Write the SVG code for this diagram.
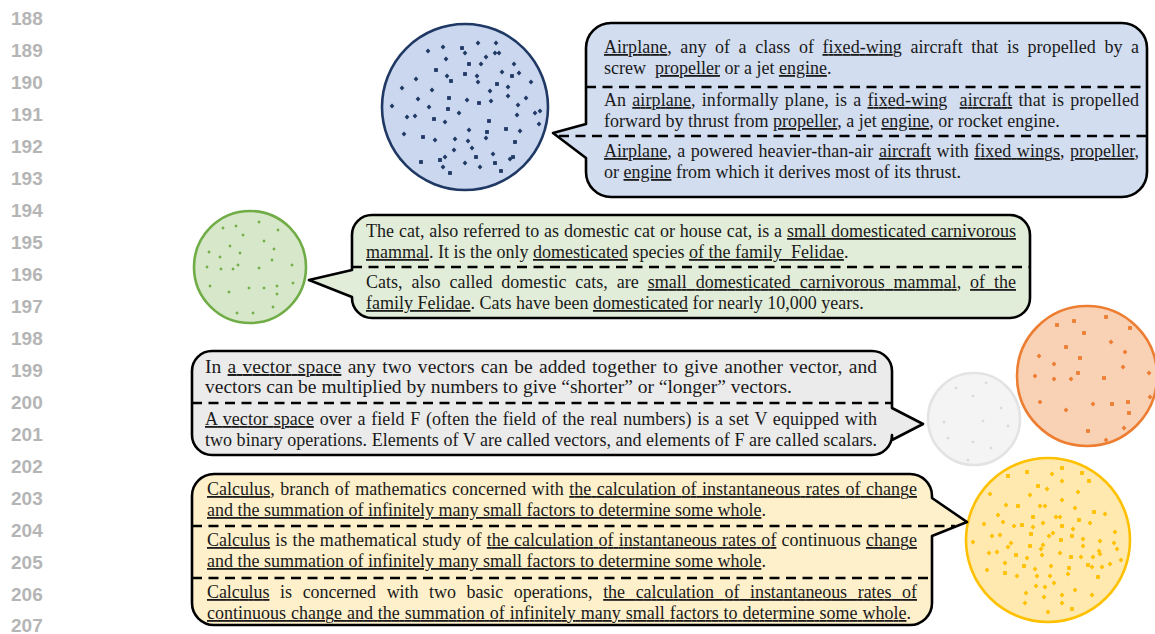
<svg xmlns="http://www.w3.org/2000/svg" xmlns:xlink="http://www.w3.org/1999/xlink" width="1155" height="634" viewBox="0 0 1155 634">
<style>
.ln{font-family:"Liberation Sans",Arial,sans-serif;font-weight:bold;font-size:19px;fill:#b5b5b5}
.t{font-family:"Liberation Serif","Times New Roman",serif;font-size:18px;fill:#1a1a1a}
.tb{font-size:19.5px}
.u{text-decoration:underline}
.bub{stroke:#000;stroke-width:2.6;stroke-linejoin:round}
.dash{stroke:#000;stroke-width:2.6;stroke-dasharray:10 6.5;fill:none}
.circ{stroke-width:2.6}
</style>
<defs>
<path id="dm" d="M0-2.4L2.4 0 0 2.4-2.4 0Z"/>
<rect id="sq" x="-1.9" y="-1.9" width="3.8" height="3.8"/>
<path id="ds" d="M0-1.7L1.7 0 0 1.7-1.7 0Z"/>
</defs>
<rect width="1155" height="634" fill="#fff"/>
<g id="line-numbers" class="ln">
<text x="11" y="25">188</text><text x="11" y="57">189</text><text x="11" y="89">190</text><text x="11" y="121">191</text><text x="11" y="153">192</text><text x="11" y="185">193</text><text x="11" y="217">194</text><text x="11" y="249">195</text><text x="11" y="281">196</text><text x="11" y="313">197</text><text x="11" y="345">198</text><text x="11" y="377">199</text><text x="11" y="409">200</text><text x="11" y="441">201</text><text x="11" y="473">202</text><text x="11" y="505">203</text><text x="11" y="537">204</text><text x="11" y="569">205</text><text x="11" y="601">206</text><text x="11" y="632">207</text>
</g>
<g id="connectors"></g>
<g id="airplane-circle">
<circle cx="465" cy="107" r="83" fill="#cbd7ee" stroke="#1f3864" class="circ"/>
<g fill="#1f3864">
<use href="#dm" x="428" y="51"/><use href="#dm" x="443" y="47"/><use href="#sq" x="462" y="48"/><use href="#dm" x="465" y="53"/><use href="#dm" x="478" y="43"/><use href="#dm" x="496" y="43"/><use href="#dm" x="446" y="59"/><use href="#dm" x="486" y="57"/><use href="#dm" x="495" y="53"/><use href="#dm" x="499" y="53"/><use href="#sq" x="469" y="64"/><use href="#dm" x="481" y="64"/><use href="#dm" x="514" y="64"/><use href="#sq" x="436" y="70"/><use href="#dm" x="416" y="79"/><use href="#dm" x="447" y="76"/><use href="#sq" x="451" y="81"/><use href="#sq" x="465" y="74"/><use href="#dm" x="477" y="76"/><use href="#dm" x="478" y="82"/><use href="#dm" x="502" y="72"/><use href="#sq" x="512" y="76"/><use href="#dm" x="519" y="73"/><use href="#dm" x="531" y="82"/><use href="#sq" x="497" y="84"/><use href="#dm" x="508" y="87"/><use href="#dm" x="402" y="88"/><use href="#dm" x="432" y="90"/><use href="#dm" x="490" y="91"/><use href="#dm" x="508" y="96"/><use href="#dm" x="526" y="98"/><use href="#dm" x="418" y="99"/><use href="#sq" x="449" y="98"/><use href="#dm" x="467" y="100"/><use href="#sq" x="479" y="103"/><use href="#dm" x="491" y="101"/><use href="#dm" x="392" y="106"/><use href="#dm" x="429" y="107"/><use href="#sq" x="448" y="109"/><use href="#dm" x="459" y="113"/><use href="#dm" x="518" y="105"/><use href="#dm" x="535" y="113"/><use href="#dm" x="540" y="111"/><use href="#dm" x="407" y="117"/><use href="#dm" x="415" y="116"/><use href="#sq" x="434" y="119"/><use href="#dm" x="445" y="122"/><use href="#sq" x="489" y="121"/><use href="#dm" x="517" y="115"/><use href="#dm" x="404" y="134"/><use href="#sq" x="423" y="137"/><use href="#dm" x="435" y="140"/><use href="#dm" x="455" y="139"/><use href="#dm" x="469" y="130"/><use href="#sq" x="487" y="132"/><use href="#dm" x="486" y="138"/><use href="#sq" x="506" y="129"/><use href="#dm" x="520" y="131"/><use href="#dm" x="539" y="124"/><use href="#dm" x="468" y="141"/><use href="#dm" x="472" y="148"/><use href="#sq" x="515" y="142"/><use href="#dm" x="454" y="150"/><use href="#dm" x="445" y="157"/><use href="#sq" x="440" y="160"/><use href="#sq" x="476" y="157"/><use href="#dm" x="493" y="154"/><use href="#sq" x="421" y="162"/><use href="#dm" x="465" y="163"/><use href="#dm" x="480" y="167"/><use href="#sq" x="495" y="163"/><use href="#dm" x="510" y="159"/><use href="#sq" x="513" y="157"/><use href="#dm" x="443" y="167"/><use href="#sq" x="450" y="173"/><use href="#sq" x="501" y="171"/>
</g>
</g>
<g id="airplane-bubble">
<path class="bub" fill="#d2ddf0" d="M611 23H1122A25 25 0 0 1 1147 48V172A25 25 0 0 1 1122 197H611A25 25 0 0 1 586 172V158L553 133L586 124V48A25 25 0 0 1 611 23Z"/>
<path class="dash" d="M586 87H1147M559 136H1147"/>
<text class="t" x="604" y="53" word-spacing="4" textLength="535" lengthAdjust="spacing"><tspan class="u">Airplane</tspan>, any of a class of <tspan class="u">fixed-wing</tspan> aircraft that is propelled by a</text>
<text class="t" x="604" y="74">screw&#160; <tspan class="u">propeller</tspan> or a jet <tspan class="u">engine</tspan>.</text>
<text class="t" x="604" y="106" word-spacing="1.5" textLength="535" lengthAdjust="spacing">An <tspan class="u">airplane</tspan>, informally plane, is a <tspan class="u">fixed-wing</tspan>&#160; <tspan class="u">aircraft</tspan> that is propelled</text>
<text class="t" x="604" y="127">forward by thrust from <tspan class="u">propeller</tspan>, a jet <tspan class="u">engine</tspan>, or rocket engine.</text>
<text class="t" x="604" y="157" word-spacing="1" textLength="535" lengthAdjust="spacing"><tspan class="u">Airplane</tspan>, a powered heavier-than-air <tspan class="u">aircraft</tspan> with <tspan class="u">fixed wings</tspan>, <tspan class="u">propeller</tspan>,</text>
<text class="t" x="604" y="178">or <tspan class="u">engine</tspan> from which it derives most of its thrust.</text>
</g>
<g id="cat-circle">
<circle cx="250" cy="267" r="56" fill="#d6e7ca" stroke="#70ad47" class="circ"/>
<g fill="#70ad47">
<use href="#ds" x="223" y="228"/><use href="#ds" x="236" y="226"/><use href="#ds" x="259" y="222"/><use href="#ds" x="278" y="230"/><use href="#ds" x="243" y="235"/><use href="#ds" x="264" y="241"/><use href="#ds" x="230" y="246"/><use href="#ds" x="274" y="249"/><use href="#ds" x="209" y="252"/><use href="#ds" x="240" y="253"/><use href="#ds" x="220" y="257"/><use href="#ds" x="272" y="260"/><use href="#ds" x="238" y="265"/><use href="#ds" x="207" y="267"/><use href="#ds" x="221" y="269"/><use href="#ds" x="233" y="269"/><use href="#ds" x="259" y="268"/><use href="#ds" x="292" y="265"/><use href="#ds" x="210" y="286"/><use href="#ds" x="249" y="288"/><use href="#ds" x="264" y="288"/><use href="#ds" x="277" y="286"/><use href="#ds" x="293" y="283"/><use href="#ds" x="229" y="292"/><use href="#ds" x="277" y="294"/><use href="#ds" x="273" y="307"/><use href="#ds" x="237" y="313"/><use href="#ds" x="253" y="313"/>
</g>
</g>
<g id="cat-bubble">
<path class="bub" fill="#e2edd9" d="M372 215H1010A20 20 0 0 1 1030 235V298A20 20 0 0 1 1010 318H372A20 20 0 0 1 352 298V297L309 280L352 270V235A20 20 0 0 1 372 215Z"/>
<path class="dash" d="M352 267H1030"/>
<text class="t" x="366" y="237" word-spacing="0.4" textLength="650" lengthAdjust="spacing">The cat, also referred to as domestic cat or house cat, is a <tspan class="u">small domesticated carnivorous</tspan></text>
<text class="t" x="366" y="258"><tspan class="u">mammal</tspan>. It is the only <tspan class="u">domesticated</tspan> species <tspan class="u">of the family&#160; Felidae</tspan>.</text>
<text class="t" x="366" y="288" word-spacing="4.4" textLength="650" lengthAdjust="spacing">Cats, also called domestic cats, are <tspan class="u">small domesticated carnivorous mammal</tspan>, <tspan class="u">of the</tspan></text>
<text class="t" x="366" y="309"><tspan class="u">family Felidae</tspan>. Cats have been <tspan class="u">domesticated</tspan> for nearly 10,000 years.</text>
</g>
<g id="orange-circle">
<circle cx="1087" cy="376" r="70" fill="#f9d2b5" stroke="#ed7d31" class="circ"/>
<g fill="#ed7d31">
<use href="#sq" x="1057" y="325"/><use href="#sq" x="1074" y="321"/><use href="#sq" x="1106" y="317"/><use href="#sq" x="1130" y="328"/><use href="#sq" x="1084" y="333"/><use href="#dm" x="1111" y="342"/><use href="#sq" x="1066" y="347"/><use href="#dm" x="1125" y="352"/><use href="#dm" x="1039" y="356"/><use href="#sq" x="1080" y="358"/><use href="#dm" x="1054" y="364"/><use href="#dm" x="1123" y="367"/><use href="#sq" x="1078" y="373"/><use href="#dm" x="1149" y="373"/><use href="#dm" x="1035" y="376"/><use href="#dm" x="1054" y="379"/><use href="#dm" x="1071" y="379"/><use href="#sq" x="1104" y="378"/><use href="#dm" x="1150" y="397"/><use href="#dm" x="1040" y="402"/><use href="#dm" x="1093" y="404"/><use href="#sq" x="1112" y="404"/><use href="#sq" x="1128" y="402"/><use href="#sq" x="1129" y="413"/><use href="#dm" x="1066" y="410"/><use href="#dm" x="1124" y="428"/><use href="#sq" x="1088" y="431"/><use href="#dm" x="1106" y="440"/>
</g>
</g>
<g id="vector-circle">
<circle cx="974" cy="419" r="46" fill="#f4f4f4" stroke="#e3e3e3" class="circ"/>
<g fill="#dadada">
<use href="#ds" x="956" y="388"/><use href="#ds" x="986" y="383"/><use href="#ds" x="973" y="396"/><use href="#ds" x="1001" y="408"/><use href="#ds" x="944" y="422"/><use href="#ds" x="983" y="421"/><use href="#ds" x="1008" y="426"/><use href="#ds" x="948" y="438"/><use href="#ds" x="973" y="442"/><use href="#ds" x="991" y="448"/><use href="#ds" x="968" y="460"/>
</g>
</g>
<g id="vector-bubble">
<path class="bub" fill="#ebebeb" d="M212 351H872A20 20 0 0 1 892 371V408L923 424L892 440V435A20 20 0 0 1 872 455H212A20 20 0 0 1 192 435V371A20 20 0 0 1 212 351Z"/>
<path class="dash" d="M192 403H892"/>
<text class="t tb" x="205" y="373" word-spacing="1.3" textLength="672" lengthAdjust="spacing">In <tspan class="u">a vector space</tspan> any two vectors can be added together to give another vector, and</text>
<text class="t tb" x="205" y="393">vectors can be multiplied by numbers to give “shorter” or “longer” vectors.</text>
<text class="t" x="205" y="425" word-spacing="1.2" textLength="672" lengthAdjust="spacing"><tspan class="u">A vector space</tspan> over a field F (often the field of the real numbers) is a set V equipped with</text>
<text class="t" x="205" y="446" textLength="672" lengthAdjust="spacing">two binary operations. Elements of V are called vectors, and elements of F are called scalars.</text>
</g>
<g id="calculus-circle">
<circle cx="1048" cy="540" r="82" fill="#ffe9ae" stroke="#ffc000" class="circ"/>
<g fill="#ffc000">
<use href="#sq" x="1008" y="476"/><use href="#sq" x="1027" y="472"/><use href="#dm" x="1052" y="474"/><use href="#sq" x="1062" y="468"/><use href="#sq" x="1082" y="473"/><use href="#dm" x="1062" y="481"/><use href="#sq" x="1089" y="481"/><use href="#sq" x="1038" y="486"/><use href="#dm" x="1047" y="489"/><use href="#dm" x="990" y="494"/><use href="#dm" x="1030" y="495"/><use href="#dm" x="1078" y="492"/><use href="#dm" x="1062" y="500"/><use href="#dm" x="1006" y="505"/><use href="#sq" x="1018" y="506"/><use href="#dm" x="1040" y="506"/><use href="#dm" x="1045" y="506"/><use href="#dm" x="1075" y="508"/><use href="#sq" x="1094" y="512"/><use href="#dm" x="998" y="515"/><use href="#sq" x="1033" y="517"/><use href="#dm" x="1056" y="517"/><use href="#dm" x="1060" y="517"/><use href="#dm" x="1105" y="514"/><use href="#dm" x="1003" y="522"/><use href="#dm" x="984" y="524"/><use href="#dm" x="1014" y="526"/><use href="#sq" x="1022" y="525"/><use href="#dm" x="1033" y="527"/><use href="#dm" x="1043" y="523"/><use href="#sq" x="1062" y="526"/><use href="#sq" x="1079" y="520"/><use href="#dm" x="1090" y="523"/><use href="#dm" x="1073" y="529"/><use href="#sq" x="1031" y="534"/><use href="#dm" x="992" y="536"/><use href="#dm" x="1000" y="535"/><use href="#dm" x="1049" y="536"/><use href="#dm" x="1053" y="533"/><use href="#sq" x="1072" y="536"/><use href="#dm" x="1083" y="539"/><use href="#dm" x="1115" y="532"/><use href="#dm" x="973" y="542"/><use href="#dm" x="1011" y="543"/><use href="#dm" x="1008" y="547"/><use href="#sq" x="1030" y="546"/><use href="#dm" x="1043" y="545"/><use href="#dm" x="1041" y="549"/><use href="#sq" x="1061" y="540"/><use href="#dm" x="1083" y="546"/><use href="#dm" x="1100" y="541"/><use href="#dm" x="1114" y="543"/><use href="#dm" x="1117" y="549"/><use href="#dm" x="989" y="553"/><use href="#dm" x="997" y="552"/><use href="#sq" x="1016" y="555"/><use href="#dm" x="1027" y="558"/><use href="#dm" x="1042" y="555"/><use href="#dm" x="1060" y="553"/><use href="#sq" x="1071" y="557"/><use href="#dm" x="1081" y="557"/><use href="#dm" x="1093" y="557"/><use href="#dm" x="1099" y="551"/><use href="#dm" x="1100" y="554"/><use href="#dm" x="1121" y="560"/><use href="#dm" x="1005" y="563"/><use href="#sq" x="1024" y="566"/><use href="#dm" x="1051" y="566"/><use href="#sq" x="1069" y="568"/><use href="#sq" x="1088" y="565"/><use href="#dm" x="1092" y="567"/><use href="#dm" x="1102" y="567"/><use href="#dm" x="1110" y="564"/><use href="#dm" x="987" y="570"/><use href="#dm" x="1035" y="569"/><use href="#sq" x="1005" y="573"/><use href="#dm" x="1017" y="576"/><use href="#dm" x="1037" y="576"/><use href="#dm" x="1050" y="576"/><use href="#dm" x="1068" y="574"/><use href="#sq" x="1098" y="577"/><use href="#dm" x="1054" y="583"/><use href="#dm" x="1036" y="586"/><use href="#dm" x="1045" y="587"/><use href="#dm" x="1075" y="590"/><use href="#dm" x="1026" y="593"/><use href="#dm" x="1062" y="595"/><use href="#dm" x="1092" y="595"/><use href="#dm" x="1044" y="597"/><use href="#dm" x="1025" y="603"/><use href="#dm" x="1062" y="603"/><use href="#dm" x="1048" y="612"/><use href="#sq" x="1072" y="609"/>
</g>
</g>
<g id="calculus-bubble">
<path class="bub" fill="#fdf0cb" d="M214 474H910A22 22 0 0 1 932 496V498L967 522L932 536V603A22 22 0 0 1 910 625H214A22 22 0 0 1 192 603V496A22 22 0 0 1 214 474Z"/>
<path class="dash" d="M192 526H955M192 578H932"/>
<text class="t" x="207" y="495" word-spacing="1" textLength="710" lengthAdjust="spacing"><tspan class="u">Calculus</tspan>, branch of mathematics concerned with <tspan class="u">the calculation of instantaneous rates of change</tspan></text>
<text class="t" x="207" y="516"><tspan class="u">and the summation of infinitely many small factors to determine some whole</tspan>.</text>
<text class="t" x="207" y="546" word-spacing="0.7" textLength="710" lengthAdjust="spacing"><tspan class="u">Calculus</tspan> is the mathematical study of <tspan class="u">the calculation of instantaneous rates of</tspan> continuous <tspan class="u">change</tspan></text>
<text class="t" x="207" y="567"><tspan class="u">and the summation of infinitely many small factors to determine some whole</tspan>.</text>
<text class="t" x="207" y="598" word-spacing="6.3" textLength="710" lengthAdjust="spacing"><tspan class="u">Calculus</tspan> is concerned with two basic operations, <tspan class="u">the calculation of instantaneous rates of</tspan></text>
<text class="t" x="207" y="619" word-spacing="0.4" textLength="704" lengthAdjust="spacing"><tspan class="u">continuous change and the summation of infinitely many small factors to determine some whole</tspan>.</text>
</g>
</svg>
